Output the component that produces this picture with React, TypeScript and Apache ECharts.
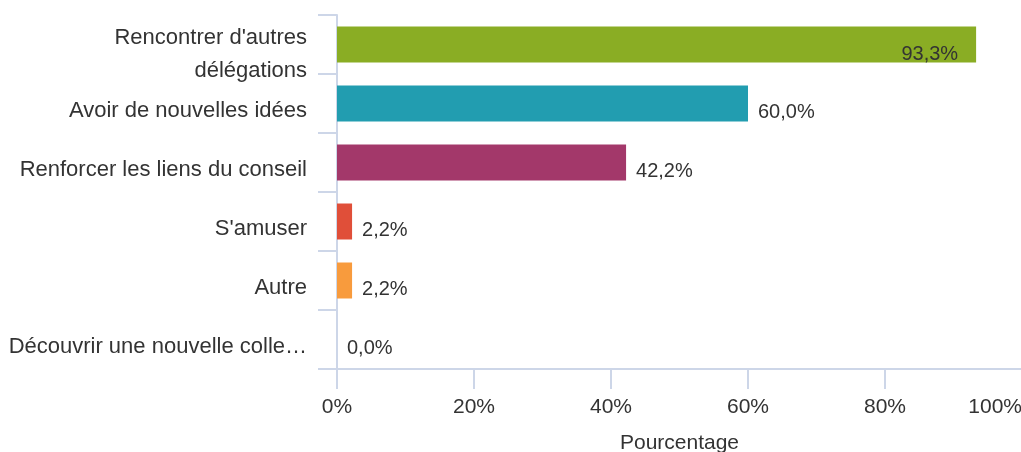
import React, { useEffect, useRef } from "react";
import * as echarts from "echarts";

const categories = [
  "Rencontrer d'autres délégations",
  "Avoir de nouvelles idées",
  "Renforcer les liens du conseil",
  "S'amuser",
  "Autre",
  "Découvrir une nouvelle collectivité",
];
const values = [93.3, 60.0, 42.2, 2.2, 2.2, 0.0];
const barColors = ["#8aad24", "#229db0", "#a3386a", "#e04f39", "#f89b3d", "#cccccc"];
const xTicks = [0, 20, 40, 60, 80, 100];
const axisName = "Pourcentage";

const FONT = 'Arial, "Liberation Sans", sans-serif';
const AXIS_COLOR = "#cdd6e8";

export default function App() {
  const ref = useRef<HTMLDivElement>(null);
  useEffect(() => {
    if (!ref.current) return;
    const chart = echarts.init(ref.current, null, { renderer: "svg" });
    const fmt = (v: number) => v.toFixed(1).replace(".", ",") + "%";
    chart.setOption({
      animation: false,
      grid: {
        left: 337,
        right: -1,
        top: 15,
        bottom: 83,
        containLabel: false,
        outerBoundsMode: "none",
      },
      xAxis: {
        type: "value",
        min: xTicks[0],
        max: xTicks[xTicks.length - 1],
        interval: 20,
        name: axisName,
        nameLocation: "middle",
        nameGap: 62,
        nameTextStyle: { fontSize: 21, color: "#333", fontFamily: FONT },
        axisLine: { show: true, lineStyle: { color: AXIS_COLOR, width: 2 } },
        axisTick: { show: true, length: 20, lineStyle: { color: AXIS_COLOR, width: 2 } },
        splitLine: { show: false },
        axisLabel: {
          fontSize: 21,
          color: "#333",
          fontFamily: FONT,
          margin: 26,
          alignMaxLabel: "right",
          formatter: (v: number) => v + "%",
        },
      },
      yAxis: {
        type: "category",
        inverse: true,
        data: categories,
        axisLine: { show: true, lineStyle: { color: AXIS_COLOR, width: 2 } },
        axisTick: { show: true, length: 19, lineStyle: { color: AXIS_COLOR, width: 2 } },
        axisLabel: {
          interval: 0,
          fontSize: 22,
          color: "#333",
          fontFamily: FONT,
          margin: 30,
          width: 300,
          overflow: "truncate",
          ellipsis: "…",
          formatter: (v: string) => {
            if (v.length > 30 && v.startsWith("Rencontrer")) {
              const i = v.lastIndexOf(" ");
              return "{sp2| }\n{c|" + v.slice(0, i) + "}\n{c|" + v.slice(i + 1) + "}";
            }
            return "{sp| }\n{s|" + v + "}";
          },
          rich: {
            sp: { lineHeight: 11, fontSize: 8 },
            sp2: { lineHeight: 17, fontSize: 8 },
            s: { lineHeight: 22, fontSize: 22, color: "#333", fontFamily: FONT },
            c: { lineHeight: 33, fontSize: 22, color: "#333", fontFamily: FONT },
          },
        },
      },
      series: [
        {
          type: "bar",
          barWidth: 36,
          data: values.map((v, i) => ({
            value: v,
            itemStyle: { color: barColors[i] },
            label:
              i === 0
                ? { position: "insideRight", distance: 18, offset: [0, 8] }
                : undefined,
          })),
          label: {
            show: true,
            position: "right",
            distance: 10,
            offset: [0, 7],
            fontSize: 20,
            color: "#333",
            fontFamily: FONT,
            formatter: (p: any) => fmt(p.value),
          },
        },
      ],
    });
    return () => chart.dispose();
  }, []);
  return (
    <div
      ref={ref}
      style={{ position: "fixed", left: 0, top: 0, width: 1021, height: 452 }}
    />
  );
}
